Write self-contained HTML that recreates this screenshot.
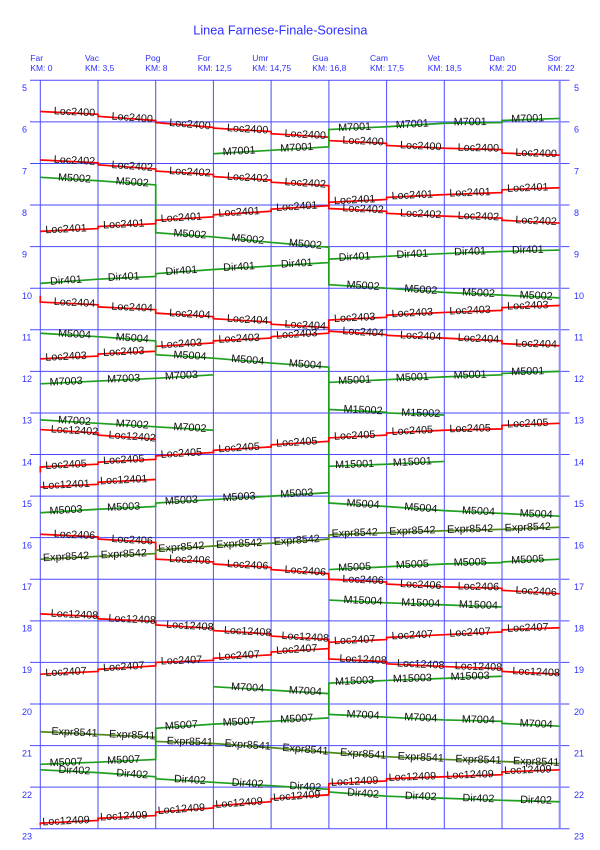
<!DOCTYPE html>
<html><head><meta charset="utf-8">
<style>
html,body{margin:0;padding:0;background:#fff;}
svg{display:block;}
.t{font-family:"Liberation Sans",Arial,sans-serif;font-size:10.8px;fill:#111;text-anchor:middle;}
.b{font-family:"Liberation Sans",Arial,sans-serif;fill:#2f2fff;}
.tr polyline{vector-effect:non-scaling-stroke;fill:none;stroke-width:1.7;stroke-linejoin:miter;}
.r{stroke:#ff0000;}
.g{stroke:#1f9f1f;}
.o{stroke:#4f8a1c;}
</style></head><body>
<svg width="600" height="850" viewBox="0 0 600 850" xmlns="http://www.w3.org/2000/svg">
<rect width="600" height="850" fill="#fff"/>
<text class="b" x="193.3" y="34.5" font-size="12.7" fill="#2a2aff">Linea Farnese-Finale-Soresina</text>

<g class="b" font-size="8.5">
<text x="30.3" y="61.2">Far</text><text x="30.3" y="70.8">KM: 0</text>
<text x="85" y="61.2">Vac</text><text x="85" y="70.8">KM: 3,5</text>
<text x="145.3" y="61.2">Pog</text><text x="145.3" y="70.8">KM: 8</text>
<text x="197.7" y="61.2">For</text><text x="197.7" y="70.8">KM: 12,5</text>
<text x="252.3" y="61.2">Umr</text><text x="252.3" y="70.8">KM: 14,75</text>
<text x="312.3" y="61.2">Gua</text><text x="312.3" y="70.8">KM: 16,8</text>
<text x="370" y="61.2">Cam</text><text x="370" y="70.8">KM: 17,5</text>
<text x="427.7" y="61.2">Vet</text><text x="427.7" y="70.8">KM: 18,5</text>
<text x="489.3" y="61.2">Dan</text><text x="489.3" y="70.8">KM: 20</text>
<text x="547.7" y="61.2">Sor</text><text x="547.7" y="70.8">KM: 22</text>
</g>

<g stroke="#4a4aff" stroke-width="1">
<line x1="30" y1="80.3" x2="569.5" y2="80.3"/>
<line x1="30" y1="121.88" x2="569.5" y2="121.88"/>
<line x1="30" y1="163.46" x2="569.5" y2="163.46"/>
<line x1="30" y1="205.04" x2="569.5" y2="205.04"/>
<line x1="30" y1="246.62" x2="569.5" y2="246.62"/>
<line x1="30" y1="288.2" x2="569.5" y2="288.2"/>
<line x1="30" y1="329.78" x2="569.5" y2="329.78"/>
<line x1="30" y1="371.36" x2="569.5" y2="371.36"/>
<line x1="30" y1="412.94" x2="569.5" y2="412.94"/>
<line x1="30" y1="454.52" x2="569.5" y2="454.52"/>
<line x1="30" y1="496.1" x2="569.5" y2="496.1"/>
<line x1="30" y1="537.68" x2="569.5" y2="537.68"/>
<line x1="30" y1="579.26" x2="569.5" y2="579.26"/>
<line x1="30" y1="620.84" x2="569.5" y2="620.84"/>
<line x1="30" y1="662.42" x2="569.5" y2="662.42"/>
<line x1="30" y1="704" x2="569.5" y2="704"/>
<line x1="30" y1="745.58" x2="569.5" y2="745.58"/>
<line x1="30" y1="787.16" x2="569.5" y2="787.16"/>
<line x1="30" y1="828.74" x2="569.5" y2="828.74"/>
<line x1="40.3" y1="80.3" x2="40.3" y2="828.74"/>
<line x1="98" y1="80.3" x2="98" y2="828.74"/>
<line x1="155.7" y1="80.3" x2="155.7" y2="828.74"/>
<line x1="213.4" y1="80.3" x2="213.4" y2="828.74"/>
<line x1="271.1" y1="80.3" x2="271.1" y2="828.74"/>
<line x1="328.9" y1="80.3" x2="328.9" y2="828.74"/>
<line x1="386.6" y1="80.3" x2="386.6" y2="828.74"/>
<line x1="444.3" y1="80.3" x2="444.3" y2="828.74"/>
<line x1="502" y1="80.3" x2="502" y2="828.74"/>
</g>
<line x1="559.7" y1="80.3" x2="559.7" y2="828.74" stroke="#8c8cff" stroke-width="2"/>

<g class="b" font-size="9">
<text x="22" y="91.1">5</text><text x="574" y="91.1">5</text>
<text x="22" y="132.7">6</text><text x="574" y="132.7">6</text>
<text x="22" y="174.3">7</text><text x="574" y="174.3">7</text>
<text x="22" y="215.8">8</text><text x="574" y="215.8">8</text>
<text x="22" y="257.4">9</text><text x="574" y="257.4">9</text>
<text x="22" y="299">10</text><text x="574" y="299">10</text>
<text x="22" y="340.6">11</text><text x="574" y="340.6">11</text>
<text x="22" y="382.2">12</text><text x="574" y="382.2">12</text>
<text x="22" y="423.7">13</text><text x="574" y="423.7">13</text>
<text x="22" y="465.3">14</text><text x="574" y="465.3">14</text>
<text x="22" y="506.9">15</text><text x="574" y="506.9">15</text>
<text x="22" y="548.5">16</text><text x="574" y="548.5">16</text>
<text x="22" y="590.1">17</text><text x="574" y="590.1">17</text>
<text x="22" y="631.6">18</text><text x="574" y="631.6">18</text>
<text x="22" y="673.2">19</text><text x="574" y="673.2">19</text>
<text x="22" y="714.8">20</text><text x="574" y="714.8">20</text>
<text x="22" y="756.4">21</text><text x="574" y="756.4">21</text>
<text x="22" y="798">22</text><text x="574" y="798">22</text>
<text x="22" y="839.5">23</text><text x="574" y="839.5">23</text>
</g>

<g class="tr" transform="translate(40.3 80.3) scale(57.71 0.693)">
<polyline class="r" points="0,45 1,49 1,52 2,58 2,61 3,68 3,69 4,74 4,77 5,82 5,87 6,91 6,94 7,98 8,100 8,105 9,108"/>
<polyline class="g" points="9,55 8,58 8,61 7,62 6,67 5,71 5,96 4,101 3,106"/>
<polyline class="r" points="0,115 1,119 1,122 2,128 2,131 3,136 3,139 4,144 4,147 5,152 5,185 6,189 6,192 7,196 8,199 8,202 9,206"/>
<polyline class="g" points="0,140 1,145 2,151 2,220 3,226 4,234 5,241 5,295 6,300 7,306 8,310 9,314"/>
<polyline class="r" points="9,155 8,158 8,162 7,165 6,169 6,172 5,176 5,181 4,186 4,189 3,194 3,197 2,202 2,207 1,211 1,214 0,218"/>
<polyline class="g" points="9,245 8,247 7,250 6,254 5,258 5,263 4,268 3,273 2,279 2,283 1,287 0,293"/>
<polyline class="r" points="0,311 0,320 1,324 1,327 2,331 2,336 3,341 3,344 4,349 4,352 5,357 5,362 6,367 6,368 7,372 8,376 8,380 9,383"/>
<polyline class="r" points="9,325 8,328 8,332 7,335 6,339 6,342 5,346 5,365 4,370 4,372 3,376 3,379 2,384 2,391 1,395 1,398 0,402"/>
<polyline class="g" points="0,365 1,370 2,376 2,396 3,401 4,408 5,414 5,610 6,615 7,621 8,625 9,629"/>
<polyline class="g" points="3,425 2,430 1,434 0,438"/>
<polyline class="g" points="9,420 8,423 8,425 7,428 6,432 5,436"/>
<polyline class="g" points="5,475 6,479 6,480 7,483"/>
<polyline class="g" points="0,490 1,495 2,500 3,505"/>
<polyline class="r" points="0,504 1,509 1,512 2,518"/>
<polyline class="r" points="9,495 8,498 8,503 7,505 6,509 6,512 5,516 5,521 4,526 4,529 3,534 3,537 2,542 2,547 1,551 1,554 0,558 0,566"/>
<polyline class="g" points="7,550 6,554 5,557"/>
<polyline class="r" points="2,576 1,580 1,583 0,587"/>
<polyline class="g" points="5,595 4,600 3,605 2,610 2,615 1,619 0,624"/>
<polyline class="r" points="0,655 1,659 1,662 2,667 2,691 3,695 3,698 4,703 4,706 5,712 5,720 6,724 6,727 7,731 8,733 8,736 9,741"/>
<polyline class="o" points="9,645 8,648 7,650 6,653 5,656 5,662 4,668 3,672 2,678 2,683 1,687 0,691"/>
<polyline class="g" points="9,691 8,695 8,696 7,698 6,702 5,706"/>
<polyline class="g" points="5,750 6,754 7,757 8,760"/>
<polyline class="r" points="0,770 1,774 1,777 2,781 2,786 3,791 3,794 4,799 4,802 5,807 5,835 6,839 6,842 7,846 8,849 8,853 9,857"/>
<polyline class="r" points="9,790 8,793 8,796 7,800 6,804 6,807 5,811 5,820 4,825 4,829 3,834 3,837 2,840 2,845 1,850 1,853 0,857"/>
<polyline class="g" points="8,860 7,863 6,866 5,870 5,885"/>
<polyline class="g" points="3,875 4,880 5,885 5,915 6,919 7,923 8,925 8,928 9,932"/>
<polyline class="o" points="0,940 1,944 2,948 2,954 3,957 4,963 5,970 6,976 7,980 8,983 9,986"/>
<polyline class="g" points="5,920 4,925 3,929 2,935 2,980 1,984 0,987"/>
<polyline class="g" points="0,995 1,999 2,1005 2,1008 3,1013 4,1018 5,1023 5,1027 6,1033 7,1036 8,1039 9,1041"/>
<polyline class="r" points="9,995 8,998 8,1002 7,1005 6,1008 6,1011 5,1015 5,1031 4,1037 4,1041 3,1047 3,1050 2,1056 2,1061 1,1065 1,1068 0,1072 0,1075"/>
</g>

<g transform="translate(0 1.2)">
<!-- Loc2400 -->
<text class="t" transform="translate(74.3 114.1) rotate(2.75)">Loc2400</text>
<text class="t" transform="translate(132 119.8) rotate(4.13)">Loc2400</text>
<text class="t" transform="translate(189.7 126.4) rotate(4.82)">Loc2400</text>
<text class="t" transform="translate(247.4 131.2) rotate(3.44)">Loc2400</text>
<text class="t" transform="translate(305.1 136.7) rotate(3.44)">Loc2400</text>
<text class="t" transform="translate(362.9 143.2) rotate(2.75)">Loc2400</text>
<text class="t" transform="translate(420.6 148.1) rotate(2.75)">Loc2400</text>
<text class="t" transform="translate(478.3 150) rotate(1.38)">Loc2400</text>
<text class="t" transform="translate(536 155.3) rotate(2.06)">Loc2400</text>
<!-- M7001 -->
<text class="t" transform="translate(527.9 120.6) rotate(-2.06)">M7001</text>
<text class="t" transform="translate(470.2 124) rotate(-0.69)">M7001</text>
<text class="t" transform="translate(412.5 126.2) rotate(-3.44)">M7001</text>
<text class="t" transform="translate(354.8 129.3) rotate(-2.75)">M7001</text>
<text class="t" transform="translate(297 149.7) rotate(-3.44)">M7001</text>
<text class="t" transform="translate(239.3 153.2) rotate(-3.44)">M7001</text>
<!-- Loc2402 -->
<text class="t" transform="translate(74.3 162.6) rotate(2.75)">Loc2402</text>
<text class="t" transform="translate(132 168.3) rotate(4.13)">Loc2402</text>
<text class="t" transform="translate(189.7 174.1) rotate(3.44)">Loc2402</text>
<text class="t" transform="translate(247.4 179.7) rotate(3.44)">Loc2402</text>
<text class="t" transform="translate(305.1 185.2) rotate(3.44)">Loc2402</text>
<text class="t" transform="translate(362.9 211.1) rotate(2.75)">Loc2402</text>
<text class="t" transform="translate(420.6 216) rotate(2.75)">Loc2402</text>
<text class="t" transform="translate(478.3 218.4) rotate(2.06)">Loc2402</text>
<text class="t" transform="translate(536 222.9) rotate(2.75)">Loc2402</text>
<!-- M5002 -->
<text class="t" transform="translate(74.3 180.4) rotate(3.44)">M5002</text>
<text class="t" transform="translate(132 184.2) rotate(4.13)">M5002</text>
<text class="t" transform="translate(189.7 236.2) rotate(4.13)">M5002</text>
<text class="t" transform="translate(247.4 241.2) rotate(5.5)">M5002</text>
<text class="t" transform="translate(305.1 246.3) rotate(4.82)">M5002</text>
<text class="t" transform="translate(362.9 287.8) rotate(3.44)">M5002</text>
<text class="t" transform="translate(420.6 291.7) rotate(4.13)">M5002</text>
<text class="t" transform="translate(478.3 295) rotate(2.75)">M5002</text>
<text class="t" transform="translate(536 297.8) rotate(2.75)">M5002</text>
<!-- Loc2401 -->
<text class="t" transform="translate(527.9 189.9) rotate(-2.06)">Loc2401</text>
<text class="t" transform="translate(470.2 194.7) rotate(-2.06)">Loc2401</text>
<text class="t" transform="translate(412.5 197.2) rotate(-2.75)">Loc2401</text>
<text class="t" transform="translate(354.8 202) rotate(-2.75)">Loc2401</text>
<text class="t" transform="translate(297 208.6) rotate(-3.44)">Loc2401</text>
<text class="t" transform="translate(239.3 214.2) rotate(-3.44)">Loc2401</text>
<text class="t" transform="translate(181.6 219.7) rotate(-3.44)">Loc2401</text>
<text class="t" transform="translate(123.9 226.3) rotate(-2.75)">Loc2401</text>
<text class="t" transform="translate(66.2 231.1) rotate(-2.75)">Loc2401</text>
<!-- Dir401 -->
<text class="t" transform="translate(527.9 251.9) rotate(-1.38)">Dir401</text>
<text class="t" transform="translate(470.2 253.6) rotate(-2.06)">Dir401</text>
<text class="t" transform="translate(412.5 256.1) rotate(-2.75)">Dir401</text>
<text class="t" transform="translate(354.8 258.9) rotate(-2.75)">Dir401</text>
<text class="t" transform="translate(297 265.5) rotate(-3.44)">Dir401</text>
<text class="t" transform="translate(239.3 268.9) rotate(-3.44)">Dir401</text>
<text class="t" transform="translate(181.6 272.8) rotate(-4.13)">Dir401</text>
<text class="t" transform="translate(123.9 278.9) rotate(-2.75)">Dir401</text>
<text class="t" transform="translate(66.2 282.5) rotate(-4.13)">Dir401</text>
<!-- Loc2404 -->
<text class="t" transform="translate(74.3 304.7) rotate(2.75)">Loc2404</text>
<text class="t" transform="translate(132 309.5) rotate(2.75)">Loc2404</text>
<text class="t" transform="translate(189.7 316.2) rotate(3.44)">Loc2404</text>
<text class="t" transform="translate(247.4 321.7) rotate(3.44)">Loc2404</text>
<text class="t" transform="translate(305.1 327.3) rotate(3.44)">Loc2404</text>
<text class="t" transform="translate(362.9 334.2) rotate(3.44)">Loc2404</text>
<text class="t" transform="translate(420.6 338) rotate(2.75)">Loc2404</text>
<text class="t" transform="translate(478.3 340.7) rotate(2.75)">Loc2404</text>
<text class="t" transform="translate(536 345.9) rotate(2.06)">Loc2404</text>
<!-- Loc2403 -->
<text class="t" transform="translate(527.9 307.7) rotate(-2.06)">Loc2403</text>
<text class="t" transform="translate(470.2 312.5) rotate(-2.06)">Loc2403</text>
<text class="t" transform="translate(412.5 315) rotate(-2.75)">Loc2403</text>
<text class="t" transform="translate(354.8 319.8) rotate(-2.75)">Loc2403</text>
<text class="t" transform="translate(297 336.2) rotate(-3.44)">Loc2403</text>
<text class="t" transform="translate(239.3 340.6) rotate(-2.75)">Loc2403</text>
<text class="t" transform="translate(181.6 345.9) rotate(-3.44)">Loc2403</text>
<text class="t" transform="translate(123.9 353.8) rotate(-2.75)">Loc2403</text>
<text class="t" transform="translate(66.2 358.6) rotate(-2.75)">Loc2403</text>
<!-- M5004 -->
<text class="t" transform="translate(74.3 336.3) rotate(3.44)">M5004</text>
<text class="t" transform="translate(132 340.2) rotate(4.13)">M5004</text>
<text class="t" transform="translate(189.7 357.8) rotate(3.44)">M5004</text>
<text class="t" transform="translate(247.4 362.1) rotate(4.82)">M5004</text>
<text class="t" transform="translate(305.1 366.5) rotate(4.13)">M5004</text>
<text class="t" transform="translate(362.9 506.1) rotate(3.44)">M5004</text>
<text class="t" transform="translate(420.6 510) rotate(4.13)">M5004</text>
<text class="t" transform="translate(478.3 513.3) rotate(2.75)">M5004</text>
<text class="t" transform="translate(536 516.1) rotate(2.75)">M5004</text>
<!-- M7003 -->
<text class="t" transform="translate(181.6 377.7) rotate(-3.44)">M7003</text>
<text class="t" transform="translate(123.9 380.8) rotate(-2.75)">M7003</text>
<text class="t" transform="translate(66.2 383.6) rotate(-2.75)">M7003</text>
<!-- M5001 -->
<text class="t" transform="translate(527.9 373.5) rotate(-2.06)">M5001</text>
<text class="t" transform="translate(470.2 377) rotate(-2.06)">M5001</text>
<text class="t" transform="translate(412.5 379.4) rotate(-2.75)">M5001</text>
<text class="t" transform="translate(354.8 382.2) rotate(-2.75)">M5001</text>
<!-- M15002 -->
<text class="t" transform="translate(362.9 412.1) rotate(2.75)">M15002</text>
<text class="t" transform="translate(420.6 415.2) rotate(2.06)">M15002</text>
<!-- M7002 -->
<text class="t" transform="translate(74.3 422.9) rotate(3.44)">M7002</text>
<text class="t" transform="translate(132 426.4) rotate(3.44)">M7002</text>
<text class="t" transform="translate(189.7 429.8) rotate(3.44)">M7002</text>
<!-- Loc12402 -->
<text class="t" transform="translate(74.3 432.6) rotate(3.44)">Loc12402</text>
<text class="t" transform="translate(132 438.6) rotate(4.13)">Loc12402</text>
<!-- Loc2405 -->
<text class="t" transform="translate(527.9 425.5) rotate(-2.06)">Loc2405</text>
<text class="t" transform="translate(470.2 430.6) rotate(-1.38)">Loc2405</text>
<text class="t" transform="translate(412.5 432.8) rotate(-2.75)">Loc2405</text>
<text class="t" transform="translate(354.8 437.6) rotate(-2.75)">Loc2405</text>
<text class="t" transform="translate(297 444.3) rotate(-3.44)">Loc2405</text>
<text class="t" transform="translate(239.3 449.8) rotate(-3.44)">Loc2405</text>
<text class="t" transform="translate(181.6 455.4) rotate(-3.44)">Loc2405</text>
<text class="t" transform="translate(123.9 461.9) rotate(-2.75)">Loc2405</text>
<text class="t" transform="translate(66.2 466.8) rotate(-2.75)">Loc2405</text>
<!-- M15001 -->
<text class="t" transform="translate(412.5 464) rotate(-2.75)">M15001</text>
<text class="t" transform="translate(354.8 466.4) rotate(-2.06)">M15001</text>
<!-- Loc12401 -->
<text class="t" transform="translate(123.9 482) rotate(-2.75)">Loc12401</text>
<text class="t" transform="translate(66.2 486.8) rotate(-2.75)">Loc12401</text>
<!-- M5003 -->
<text class="t" transform="translate(297 495.5) rotate(-3.44)">M5003</text>
<text class="t" transform="translate(239.3 499) rotate(-3.44)">M5003</text>
<text class="t" transform="translate(181.6 502.5) rotate(-3.44)">M5003</text>
<text class="t" transform="translate(123.9 509) rotate(-2.75)">M5003</text>
<text class="t" transform="translate(66.2 512.2) rotate(-3.44)">M5003</text>
<!-- Loc2406 -->
<text class="t" transform="translate(74.3 536.9) rotate(2.75)">Loc2406</text>
<text class="t" transform="translate(132 542.1) rotate(3.44)">Loc2406</text>
<text class="t" transform="translate(189.7 561.8) rotate(2.75)">Loc2406</text>
<text class="t" transform="translate(247.4 567.1) rotate(3.44)">Loc2406</text>
<text class="t" transform="translate(305.1 573) rotate(4.13)">Loc2406</text>
<text class="t" transform="translate(362.9 581.9) rotate(2.75)">Loc2406</text>
<text class="t" transform="translate(420.6 586.8) rotate(2.75)">Loc2406</text>
<text class="t" transform="translate(478.3 588.7) rotate(1.38)">Loc2406</text>
<text class="t" transform="translate(536 593.4) rotate(3.44)">Loc2406</text>
<!-- Expr8542 -->
<text class="t" transform="translate(527.9 529.4) rotate(-2.06)">Expr8542</text>
<text class="t" transform="translate(470.2 531.1) rotate(-1.38)">Expr8542</text>
<text class="t" transform="translate(412.5 532.9) rotate(-2.06)">Expr8542</text>
<text class="t" transform="translate(354.8 535) rotate(-2.06)">Expr8542</text>
<text class="t" transform="translate(297 542.4) rotate(-4.13)">Expr8542</text>
<text class="t" transform="translate(239.3 545.8) rotate(-2.75)">Expr8542</text>
<text class="t" transform="translate(181.6 549.3) rotate(-4.13)">Expr8542</text>
<text class="t" transform="translate(123.9 556.1) rotate(-2.75)">Expr8542</text>
<text class="t" transform="translate(66.2 558.9) rotate(-2.75)">Expr8542</text>
<!-- M5005 -->
<text class="t" transform="translate(527.9 561.7) rotate(-2.75)">M5005</text>
<text class="t" transform="translate(470.2 564.4) rotate(-1.38)">M5005</text>
<text class="t" transform="translate(412.5 566.5) rotate(-2.75)">M5005</text>
<text class="t" transform="translate(354.8 569.3) rotate(-2.75)">M5005</text>
<!-- M15004 -->
<text class="t" transform="translate(362.9 602.7) rotate(2.75)">M15004</text>
<text class="t" transform="translate(420.6 605.1) rotate(2.06)">M15004</text>
<text class="t" transform="translate(478.3 607.1) rotate(2.06)">M15004</text>
<!-- Loc12408 -->
<text class="t" transform="translate(74.3 616.6) rotate(2.75)">Loc12408</text>
<text class="t" transform="translate(132 621.4) rotate(2.75)">Loc12408</text>
<text class="t" transform="translate(189.7 628) rotate(3.44)">Loc12408</text>
<text class="t" transform="translate(247.4 633.6) rotate(3.44)">Loc12408</text>
<text class="t" transform="translate(305.1 639.1) rotate(3.44)">Loc12408</text>
<text class="t" transform="translate(362.9 661.6) rotate(2.75)">Loc12408</text>
<text class="t" transform="translate(420.6 666.4) rotate(2.75)">Loc12408</text>
<text class="t" transform="translate(478.3 668.8) rotate(2.06)">Loc12408</text>
<text class="t" transform="translate(536 674.1) rotate(2.75)">Loc12408</text>
<!-- Loc2407 -->
<text class="t" transform="translate(527.9 629.9) rotate(-2.06)">Loc2407</text>
<text class="t" transform="translate(470.2 634.5) rotate(-2.75)">Loc2407</text>
<text class="t" transform="translate(412.5 637.2) rotate(-2.75)">Loc2407</text>
<text class="t" transform="translate(354.8 642.1) rotate(-2.75)">Loc2407</text>
<text class="t" transform="translate(297 651.5) rotate(-3.44)">Loc2407</text>
<text class="t" transform="translate(239.3 657.7) rotate(-3.44)">Loc2407</text>
<text class="t" transform="translate(181.6 662.5) rotate(-2.06)">Loc2407</text>
<text class="t" transform="translate(123.9 668.8) rotate(-3.44)">Loc2407</text>
<text class="t" transform="translate(66.2 674) rotate(-2.75)">Loc2407</text>
<!-- M15003 -->
<text class="t" transform="translate(470.2 678.4) rotate(-2.06)">M15003</text>
<text class="t" transform="translate(412.5 680.5) rotate(-2.06)">M15003</text>
<text class="t" transform="translate(354.8 683) rotate(-2.75)">M15003</text>
<!-- M7004 -->
<text class="t" transform="translate(247.4 689.7) rotate(3.44)">M7004</text>
<text class="t" transform="translate(305.1 693.2) rotate(3.44)">M7004</text>
<text class="t" transform="translate(362.9 717) rotate(2.75)">M7004</text>
<text class="t" transform="translate(420.6 719.8) rotate(2.75)">M7004</text>
<text class="t" transform="translate(478.3 721.8) rotate(1.38)">M7004</text>
<text class="t" transform="translate(536 726) rotate(2.75)">M7004</text>
<!-- Expr8541 -->
<text class="t" transform="translate(74.3 734.4) rotate(2.75)">Expr8541</text>
<text class="t" transform="translate(132 737.1) rotate(2.75)">Expr8541</text>
<text class="t" transform="translate(189.7 743.7) rotate(2.06)">Expr8541</text>
<text class="t" transform="translate(247.4 747) rotate(4.13)">Expr8541</text>
<text class="t" transform="translate(305.1 751.5) rotate(4.82)">Expr8541</text>
<text class="t" transform="translate(362.9 756) rotate(4.13)">Expr8541</text>
<text class="t" transform="translate(420.6 759.3) rotate(2.75)">Expr8541</text>
<text class="t" transform="translate(478.3 761.7) rotate(2.06)">Expr8541</text>
<text class="t" transform="translate(536 763.8) rotate(2.06)">Expr8541</text>
<!-- M5007 -->
<text class="t" transform="translate(297 720.8) rotate(-3.44)">M5007</text>
<text class="t" transform="translate(239.3 723.9) rotate(-2.75)">M5007</text>
<text class="t" transform="translate(181.6 727.4) rotate(-4.13)">M5007</text>
<text class="t" transform="translate(123.9 762) rotate(-2.75)">M5007</text>
<text class="t" transform="translate(66.2 764.4) rotate(-2.06)">M5007</text>
<!-- Dir402 -->
<text class="t" transform="translate(74.3 772.5) rotate(2.75)">Dir402</text>
<text class="t" transform="translate(132 776.1) rotate(4.13)">Dir402</text>
<text class="t" transform="translate(189.7 781.9) rotate(3.44)">Dir402</text>
<text class="t" transform="translate(247.4 785.4) rotate(3.44)">Dir402</text>
<text class="t" transform="translate(305.1 788.8) rotate(3.44)">Dir402</text>
<text class="t" transform="translate(362.9 795.5) rotate(4.13)">Dir402</text>
<text class="t" transform="translate(420.6 798.4) rotate(2.06)">Dir402</text>
<text class="t" transform="translate(478.3 800.5) rotate(2.06)">Dir402</text>
<text class="t" transform="translate(536 802.2) rotate(1.38)">Dir402</text>
<!-- Loc12409 -->
<text class="t" transform="translate(527.9 772) rotate(-2.06)">Loc12409</text>
<text class="t" transform="translate(470.2 776.8) rotate(-2.06)">Loc12409</text>
<text class="t" transform="translate(412.5 778.9) rotate(-2.06)">Loc12409</text>
<text class="t" transform="translate(354.8 783.5) rotate(-2.75)">Loc12409</text>
<text class="t" transform="translate(297 798.1) rotate(-4.13)">Loc12409</text>
<text class="t" transform="translate(239.3 805) rotate(-4.13)">Loc12409</text>
<text class="t" transform="translate(181.6 811.2) rotate(-4.13)">Loc12409</text>
<text class="t" transform="translate(123.9 818.1) rotate(-2.75)">Loc12409</text>
<text class="t" transform="translate(66.2 823) rotate(-2.75)">Loc12409</text>
</g>
</svg>
</body></html>
